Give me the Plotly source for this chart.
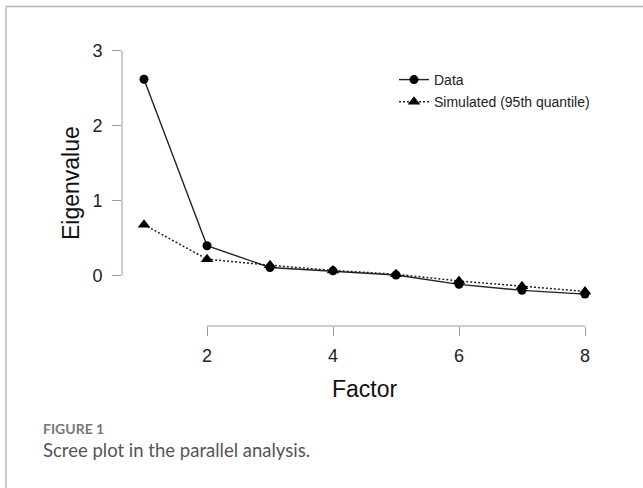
import plotly.graph_objects as go

factors = [1, 2, 3, 4, 5, 6, 7, 8]
data_eigen = [2.62, 0.40, 0.11, 0.065, 0.01, -0.115, -0.195, -0.245]
sim_eigen = [0.68, 0.22, 0.14, 0.07, 0.02, -0.07, -0.14, -0.21]
x_ticks = [2, 4, 6, 8]
y_ticks = [0, 1, 2, 3]

W, H = 643, 488
AX = "#9a9a9a"
FONT = "Liberation Sans, Arial, sans-serif"

fig = go.Figure()
fig.add_trace(go.Scatter(
    x=factors, y=data_eigen, mode="lines+markers", name="Data",
    line=dict(color="#222222", width=1.4),
    marker=dict(symbol="circle", size=9, color="black"),
    legendgroup="a",
))
fig.add_trace(go.Scatter(
    x=factors, y=sim_eigen, mode="lines+markers", name="Simulated (95th quantile)",
    line=dict(color="#222222", width=1.5, dash="2px,2px"),
    marker=dict(symbol="triangle-up", size=11, color="black"),
    legendgroup="b",
))

# pixel layout
left_px, right_px, top_px, bot_px = 122, 600, 40, 326
x1_px, xunit = 144, 63.0
y0_px, yunit = 275.7, 75.0

xr = [1 + (left_px - x1_px) / xunit, 1 + (right_px - x1_px) / xunit]
yr = [(y0_px - bot_px) / yunit, (y0_px - top_px) / yunit]

fig.update_layout(
    width=W, height=H,
    margin=dict(l=0, r=0, t=0, b=0),
    paper_bgcolor="white", plot_bgcolor="white",
    font=dict(family=FONT, color="#222222"),
    xaxis=dict(
        domain=[left_px / W, right_px / W], range=xr,
        showgrid=False, zeroline=False, showline=False,
        tickmode="array", tickvals=x_ticks, ticktext=[str(t) for t in x_ticks],
        ticks="outside", ticklen=9, tickcolor=AX, tickwidth=1,
        tickfont=dict(size=18, family=FONT, color="#222222"),
        ticklabelstandoff=4,
    ),
    yaxis=dict(
        domain=[1 - bot_px / H, 1 - top_px / H], range=yr,
        showgrid=False, zeroline=False, showline=False,
        tickmode="array", tickvals=y_ticks, ticktext=[str(t) for t in y_ticks],
        ticks="outside", ticklen=9, tickcolor=AX, tickwidth=1,
        tickfont=dict(size=18, family=FONT, color="#222222"),
        ticklabelstandoff=6,
    ),
    showlegend=True,
    legend=dict(
        x=394 / W, y=1 - 64 / H, xanchor="left", yanchor="top",
        font=dict(size=14, family=FONT, color="#222222"),
        bgcolor="rgba(0,0,0,0)", borderwidth=0,
        traceorder="grouped", tracegroupgap=1,
    ),
)

# R-style axis lines spanning only the tick range
fig.add_shape(type="line", xref="x", yref="y domain",
              x0=x_ticks[0], x1=x_ticks[-1], y0=0, y1=0,
              line=dict(color=AX, width=1))
fig.add_shape(type="line", xref="x domain", yref="y",
              x0=0, x1=0, y0=y_ticks[0], y1=y_ticks[-1],
              line=dict(color=AX, width=1))

# frame
fig.add_shape(type="line", xref="paper", yref="paper",
              x0=6 / W, x1=1, y0=1 - 6.5 / H, y1=1 - 6.5 / H,
              line=dict(color="#b8b8b8", width=1.5))
fig.add_shape(type="line", xref="paper", yref="paper",
              x0=6 / W, x1=6 / W, y0=0, y1=1 - 6.5 / H,
              line=dict(color="#b8b8b8", width=1.5))

# axis titles
fig.add_annotation(text="Eigenvalue", xref="paper", yref="paper",
                   x=71 / W, y=1 - 183 / H, xanchor="center", yanchor="middle",
                   textangle=-90, showarrow=False,
                   font=dict(size=23, family=FONT, color="#111111"))
fig.add_annotation(text="Factor", xref="paper", yref="paper",
                   x=365 / W, y=1 - 389 / H, xanchor="center", yanchor="middle",
                   showarrow=False,
                   font=dict(size=23, family=FONT, color="#111111"))

# caption
fig.add_annotation(text="FIGURE 1", xref="paper", yref="paper",
                   x=41 / W, y=1 - 428 / H, xanchor="left", yanchor="middle",
                   showarrow=False,
                   font=dict(size=14, family="Lato, sans-serif", color="#777777", weight="bold"))
fig.add_annotation(text="Scree plot in the parallel analysis.", xref="paper", yref="paper",
                   x=41 / W, y=1 - 449.5 / H, xanchor="left", yanchor="middle",
                   showarrow=False,
                   font=dict(size=18.5, family="Lato, sans-serif", color="#555555"))

fig.write_html(
    "out.html",
    config={"displayModeBar": False},
    post_script="document.body.style.margin='0';document.body.style.overflow='hidden';",
)
